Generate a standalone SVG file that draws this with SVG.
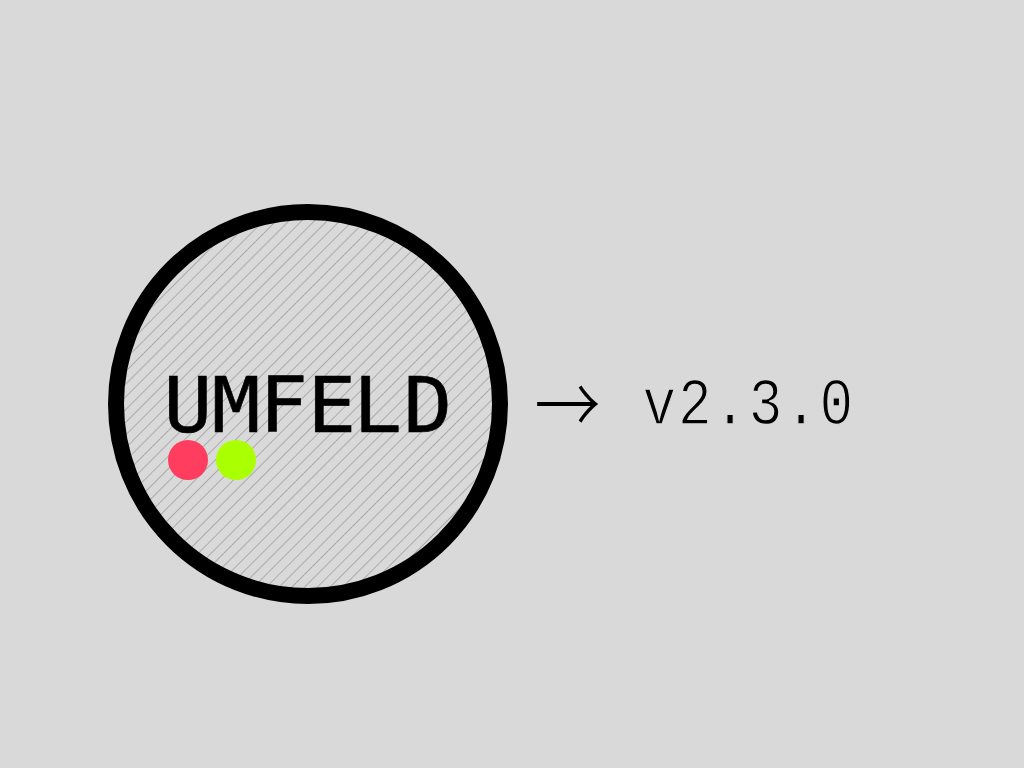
<svg xmlns="http://www.w3.org/2000/svg" width="1024" height="768" viewBox="0 0 1024 768">
<style>
.logo{font-family:"DejaVu Sans Mono","Liberation Mono",monospace;font-size:77px;fill:#000;stroke:#000;stroke-width:.6px}
.ver{font-family:"Liberation Mono",monospace;font-size:66px;letter-spacing:2.05px;fill:#000;stroke:#d9d9d9;stroke-width:1.4px}
.arrow{font-family:"Noto Sans CJK JP",sans-serif;font-size:80px;font-weight:300;fill:#000}
</style>
<defs>
<pattern id="hatch" width="9" height="9" patternUnits="userSpaceOnUse" patternTransform="rotate(-45 0 0)">
<rect width="9" height="9" fill="#d9d9d9"/>
<line x1="0" y1="0.5" x2="9" y2="0.5" stroke="#a0a0a0" stroke-width=".8"/>
</pattern>
</defs>
<rect width="1024" height="768" fill="#d9d9d9"/>
<g id="logo">
<circle cx="308" cy="404" r="192" fill="url(#hatch)" stroke="#000" stroke-width="16"/>
<text class="logo" transform="scale(1.05,1)" x="155.8 201.6 246.8 292.8 336.4 384.4" y="432">UMFELD</text>
<circle cx="188" cy="460" r="20" fill="#ff3d5e"/>
<circle cx="236" cy="460" r="20" fill="#aaff00"/>
</g>
<g id="version">
<text class="arrow" transform="translate(534.5,434) scale(.825,1)">→</text>
<text class="ver" transform="translate(642.5,424) scale(.85,1)">v2.3.0</text>
</g>
</svg>
